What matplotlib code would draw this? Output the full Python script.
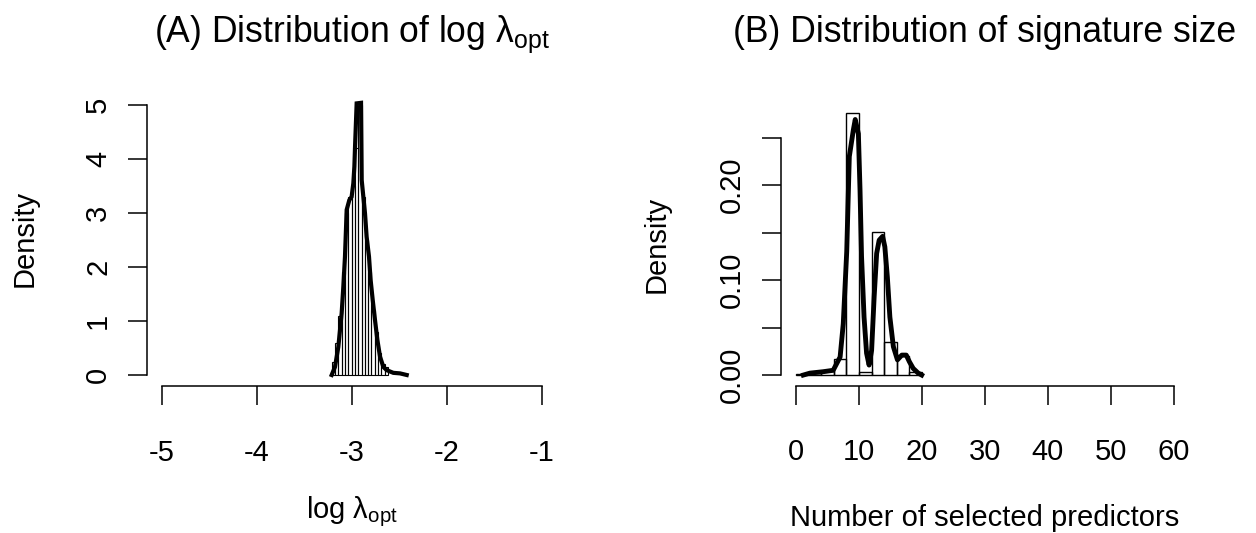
import matplotlib
matplotlib.use("Agg")
import matplotlib.pyplot as plt
import numpy as np

plt.rcParams['font.family'] = ['Liberation Sans', 'DejaVu Sans']
plt.rcParams['mathtext.fontset'] = 'custom'
plt.rcParams['mathtext.rm'] = 'Liberation Sans'
plt.rcParams['mathtext.it'] = 'Liberation Sans'
plt.rcParams['mathtext.sf'] = 'Liberation Sans'
plt.rcParams['axes.unicode_minus'] = False

# ---------------- Panel A data: log lambda_opt ----------------
lam_bin_edges = [-3.215, -3.18, -3.145, -3.11, -3.075, -3.04, -3.005, -2.97, -2.935,
                 -2.90, -2.865, -2.83, -2.795, -2.76, -2.725, -2.69, -2.655, -2.62]
lam_hist_density = [0.25, 0.6, 1.1, 1.9, 3.0, 3.3, 3.5, 4.2, 5.0,
                    3.3, 2.5, 1.9, 1.2, 0.8, 0.4, 0.2, 0.15]
lam_kde_x = [-3.214, -3.179, -3.144, -3.109, -3.091, -3.074, -3.056, -3.028, -3.004,
             -2.986, -2.975, -2.968, -2.951, -2.905, -2.898, -2.863, -2.846, -2.821,
             -2.804, -2.782, -2.758, -2.733, -2.705, -2.670, -2.635, -2.565, -2.495, -2.424]
lam_kde_y = [0.0, 0.15, 0.52, 1.14, 1.64, 2.19, 3.06, 3.24, 3.30,
             3.55, 3.86, 4.23, 5.03, 5.04, 3.61, 2.99, 2.56, 2.19,
             1.76, 1.39, 1.02, 0.65, 0.34, 0.15, 0.09, 0.04, 0.03, 0.0]
lam_xticks = [-5, -4, -3, -2, -1]
lam_yticks = [0, 1, 2, 3, 4, 5]

# ---------------- Panel B data: signature size ----------------
size_bin_edges = [0, 2, 4, 6, 8, 10, 12, 14, 16, 18, 20]
size_hist_density = [0.001, 0.002, 0.004, 0.017, 0.276, 0.003, 0.151, 0.035, 0.020, 0.003]
size_kde_x = [1.16, 2.2, 4.3, 5.9, 7.0, 7.5, 8.05, 8.46, 9.1, 9.4, 9.9, 10.16, 10.4,
              10.8, 11.2, 11.6, 12.0, 12.4, 12.8, 13.2, 13.75, 14.1, 14.5, 14.9,
              15.45, 16.1, 16.8, 17.5, 18.0, 18.6, 19.4, 19.95]
size_kde_y = [0.0, 0.002, 0.0035, 0.005, 0.019, 0.054, 0.13, 0.23, 0.258, 0.269, 0.254,
              0.195, 0.125, 0.061, 0.023, 0.0105, 0.026, 0.082, 0.128, 0.142, 0.146,
              0.135, 0.103, 0.061, 0.03, 0.016, 0.021, 0.021, 0.014, 0.007, 0.002, 0.0]
size_xticks = [0, 10, 20, 30, 40, 50, 60]
size_yticks = [0.00, 0.05, 0.10, 0.15, 0.20, 0.25]
size_yticklabels = ["0.00", "", "0.10", "", "0.20", ""]

W, H = 1256, 533
fig = plt.figure(figsize=(W / 100, H / 100), dpi=100)

def frac_axes(left, right, top, bottom):
    return fig.add_axes([left / W, 1 - bottom / H, (right - left) / W, (bottom - top) / H])

axA = frac_axes(146.8, 557.2, 91.5, 385.8)
axB = frac_axes(780.9, 1189.1, 102.4, 385.5)

FS = 21
TFS = 25.6

def style(ax, xb, yb):
    for s in ['top', 'right']:
        ax.spines[s].set_visible(False)
    ax.spines['left'].set_bounds(*yb)
    ax.spines['bottom'].set_bounds(*xb)
    for s in ['left', 'bottom']:
        ax.spines[s].set_linewidth(1.1)
    ax.tick_params(axis='both', direction='out', length=14, width=1.1, labelsize=FS, colors='black')
    ax.tick_params(axis='x', pad=24)
    ax.tick_params(axis='y', pad=11)
    for lab in ax.get_yticklabels():
        lab.set_rotation(90)
        lab.set_va('center')

# Panel A
le = lam_bin_edges
axA.bar(le[:-1], lam_hist_density, width=np.diff(le), align='edge', fill=False,
        edgecolor='black', linewidth=0.8)
axA.plot(lam_kde_x, lam_kde_y, color='black', linewidth=3.0, solid_joinstyle='miter')
axA.set_xlim(-5.16, -0.84)
axA.set_ylim(-0.2, 5.25)
axA.set_xticks(lam_xticks)
axA.set_xticklabels([str(v) for v in lam_xticks])
axA.set_yticks(lam_yticks)
axA.set_yticklabels([str(v) for v in lam_yticks])
style(axA, (-5, -1), (0, 5))

# Panel B
se = size_bin_edges
axB.bar(se[:-1], size_hist_density, width=np.diff(se), align='edge', fill=False,
        edgecolor='black', linewidth=1.0)
axB.plot(size_kde_x, size_kde_y, color='black', linewidth=3.5)
axB.set_xlim(-2.4, 62.4)
axB.set_ylim(-0.011, 0.287)
axB.set_xticks(size_xticks)
axB.set_xticklabels([str(v) for v in size_xticks])
axB.set_yticks(size_yticks)
axB.set_yticklabels(size_yticklabels)
style(axB, (0, 60), (0, 0.25))

# Labels
axA.set_ylabel("Density", fontsize=FS, va='center')
axA.yaxis.set_label_coords((25 - 146.8) / 410.4, 0.5)
axB.set_ylabel("Density", fontsize=FS, va='center')
axB.yaxis.set_label_coords((657 - 780.9) / 408.2, 0.5)

axA.set_xlabel(r"log $\mathrm{\lambda}_{\mathrm{opt}}$", fontsize=FS, va='baseline')
axA.xaxis.set_label_coords(0.5, (385.8 - 518) / 294.3)
axB.set_xlabel("Number of selected predictors", fontsize=FS, va='baseline')
axB.xaxis.set_label_coords(0.5, (385.5 - 526) / 283.1)

fig.text((146.8 + 557.2) / 2 / W, 1 - 42 / H, r"(A) Distribution of log $\mathrm{\lambda}_{\mathrm{opt}}$",
         ha='center', va='baseline', fontsize=TFS)
fig.text((780.9 + 1189.1) / 2 / W, 1 - 42 / H, "(B) Distribution of signature size",
         ha='center', va='baseline', fontsize=TFS)

fig.savefig("out.png", dpi=100, facecolor='white')
